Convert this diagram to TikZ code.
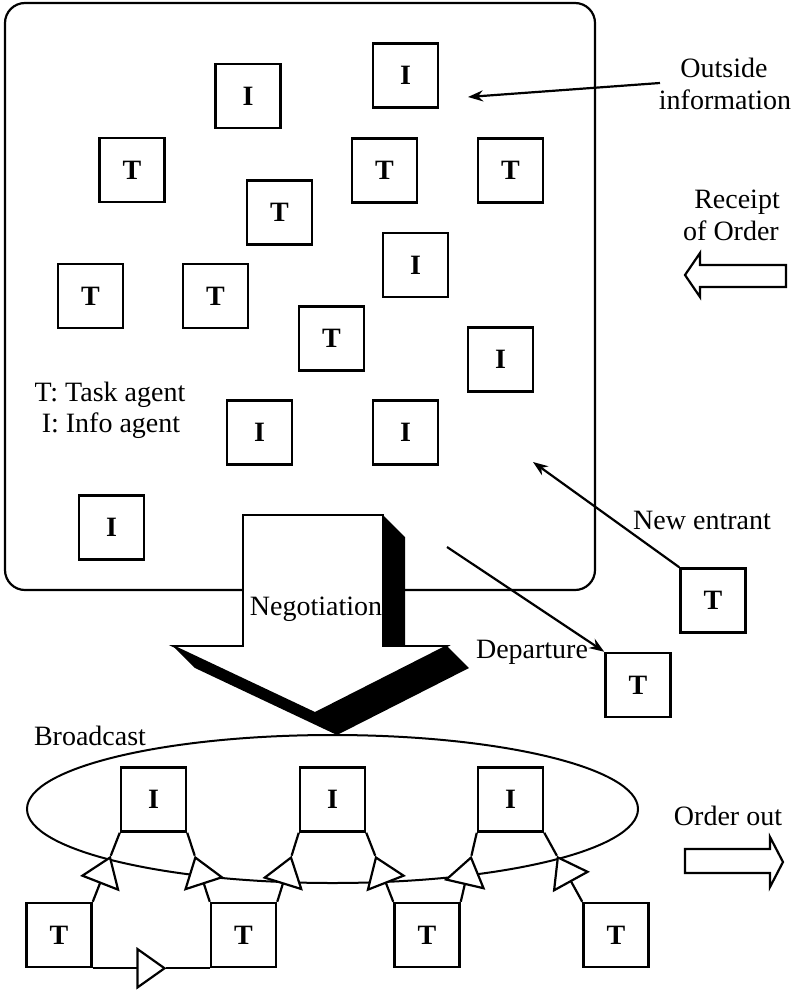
\documentclass[tikz,border=0pt]{standalone}
\usepackage{fontspec}
\setmainfont{Liberation Serif}
\usetikzlibrary{arrows.meta,calc,shapes.geometric}
\begin{document}
\begin{tikzpicture}[x=1pt,y=-1pt,
  agent/.style={draw, line width=2.5pt, minimum width=65pt, minimum height=64pt, inner sep=0pt, fill=white, font=\fontsize{28}{28}\selectfont\bfseries},
  lbl/.style={font=\fontsize{28}{30}\selectfont, inner sep=0pt},
  conn/.style={line width=2.2pt},
  tri/.style={-{Triangle[fill=white,length=30pt,width=42pt]}},
  pt/.style={line width=2.2pt,-{Stealth[length=15pt,width=11pt]}},
  hollow/.style={draw, line width=2.2pt, fill=white, line join=miter}
]
\useasboundingbox (0,0) rectangle (792,990);
\fill[white] (0,0) rectangle (792,990);

% world
\node[draw, line width=2.2pt, rounded corners=20pt, minimum width=590pt, minimum height=587pt, inner sep=0pt] (world) at (300,296.5) {};

% agents inside
\node[agent] (iA) at (248,96) {I};
\node[agent] (iB) at (405.5,75.5) {I};
\node[agent] (tA) at (132,170) {T};
\node[agent] (tB) at (384.5,170.5) {T};
\node[agent] (tC) at (510.5,170.5) {T};
\node[agent] (tD) at (279.5,212.5) {T};
\node[agent] (iC) at (415.5,265) {I};
\node[agent] (tE) at (90.5,296) {T};
\node[agent] (tF) at (215.5,296) {T};
\node[agent] (tG) at (331.5,338.5) {T};
\node[agent] (iD) at (500.5,359.5) {I};
\node[agent] (iE) at (259.5,432.5) {I};
\node[agent] (iF) at (405.5,432.5) {I};
\node[agent] (iG) at (111.5,527.5) {I};

\node[lbl] (legT) at (110,395) {T: Task agent};
\node[lbl] (legI) at (111,426) {I: Info agent};

% outside information
\node[lbl] (out1) at (724,68) {Outside};
\node[lbl] (out2) at (725,100) {information};
\coordinate (oiS) at (660,83);
\coordinate (oiE) at (468,97);
\draw[pt] (oiS) -- (oiE);

% receipt of order
\node[lbl] (rec1) at (737,202) {Receipt};
\node[lbl] (rec2) at (731,231) {of Order};
\draw[hollow] (786,265) -- (700,265) -- (700,253) -- (685,275) -- (700,297) -- (700,287) -- (786,287) -- cycle;

% big negotiation arrow (shadow then body)
\fill[black] (243,515) -- (383,515) -- (405,537) -- (405,667) -- (265,667) -- (243,645) -- cycle;
\fill[black] (173,646) -- (447,646) -- (469,668) -- (337,735) -- (195,668) -- cycle;
\draw[line width=1.8pt, fill=white, line join=miter] (243,515) -- (383,515) -- (383,646) -- (447,646) -- (315,713) -- (173,646) -- (243,646) -- cycle;
\node[lbl] (nego) at (316,609) {Negotiation};

% new entrant / departure
\node[agent] (tNew) at (713,600.5) {T};
\node[agent] (tDep) at (638,685) {T};
\coordinate (neE) at (533,462);
\coordinate (dpS) at (447,547);
\draw[pt] (tNew.north west) -- (neE);
\draw[pt] (dpS) -- (tDep.north west);
\node[lbl] (newent) at (702,520) {New entrant};
\node[lbl] (dep) at (532,652) {Departure};

% broadcast
\node[draw, ellipse, line width=2pt, minimum width=611pt, minimum height=148pt, inner sep=0pt] (bcast) at (332.5,809) {};
\node[lbl] (bclbl) at (90,736) {Broadcast};

\node[agent] (bI1) at (153.5,799.5) {I};
\node[agent] (bI2) at (332.5,799.5) {I};
\node[agent] (bI3) at (510.5,799.5) {I};
\node[agent] (bT1) at (59,935) {T};
\node[agent] (bT2) at (243.5,935) {T};
\node[agent] (bT3) at (427,935) {T};
\node[agent] (bT4) at (616,935) {T};

\coordinate (k1) at ($(bT1.north east)!0.667!(bI1.south west)$);
\coordinate (k2) at ($(bT2.north west)!0.667!(bI1.south east)$);
\coordinate (k3) at ($(bT2.north east)!0.667!(bI2.south west)$);
\coordinate (k4) at ($(bT3.north west)!0.667!(bI2.south east)$);
\coordinate (k5) at ($(bT3.north east)!0.667!(bI3.south west)$);
\coordinate (k6) at ($(bT4.north west)!0.667!(bI3.south east)$);
\coordinate (k7) at ($(bT1.south east)!0.63!(bT2.south west)$);

\draw[conn] (k1) -- (bI1.south west);
\draw[conn] (k2) -- (bI1.south east);
\draw[conn] (k3) -- (bI2.south west);
\draw[conn] (k4) -- (bI2.south east);
\draw[conn] (k5) -- (bI3.south west);
\draw[conn] (k6) -- (bI3.south east);
\draw[conn] (k7) -- (bT2.south west);
\draw[conn,tri] (bT1.north east) -- (k1);
\draw[conn,tri] (bT2.north west) -- (k2);
\draw[conn,tri] (bT2.north east) -- (k3);
\draw[conn,tri] (bT3.north west) -- (k4);
\draw[conn,tri] (bT3.north east) -- (k5);
\draw[conn,tri] (bT4.north west) -- (k6);
\draw[conn,tri] (bT1.south east) -- (k7);

% order out
\node[lbl] (oolbl) at (728,816) {Order out};
\draw[hollow] (685,849) -- (770,849) -- (770,837) -- (783,862) -- (770,887) -- (770,873) -- (685,873) -- cycle;
\end{tikzpicture}
\end{document}
